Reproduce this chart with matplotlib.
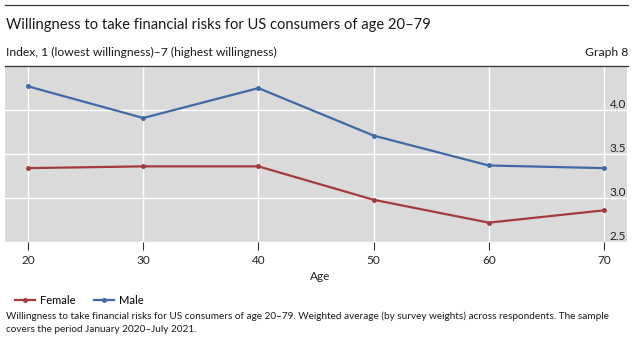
import matplotlib
matplotlib.use("Agg")
import matplotlib.pyplot as plt
from matplotlib.lines import Line2D

plt.rcParams['font.family'] = ['Lato', 'DejaVu Sans']

ages = [20, 30, 40, 50, 60, 70]
female = [3.34, 3.36, 3.36, 2.98, 2.72, 2.86]
male = [4.27, 3.91, 4.25, 3.71, 3.37, 3.34]
yticks = [2.5, 3.0, 3.5, 4.0]
ytick_labels = ["2.5", "3.0", "3.5", "4.0"]

W, H = 634, 340
fig = plt.figure(figsize=(W/100, H/100), dpi=100)

def fx(x): return x / W
def fy(y): return 1 - y / H

fig.add_artist(Line2D([fx(5), fx(628)], [fy(5), fy(5)], color='#333333', lw=0.9))
fig.add_artist(Line2D([fx(5), fx(628)], [fy(66), fy(66)], color='#333333', lw=0.9))

fig.text(fx(6), fy(25), "Willingness to take financial risks for US consumers of age 20\u201379",
         fontsize=10.6, va='center', ha='left', color='#1a1a1a')
fig.text(fx(6), fy(52), "Index, 1 (lowest willingness)\u20137 (highest willingness)",
         fontsize=8.7, va='center', ha='left', color='#1a1a1a')
fig.text(fx(628), fy(52), "Graph 8", fontsize=8.7, va='center', ha='right', color='#1a1a1a')

ax = fig.add_axes([fx(5), fy(242), fx(627) - fx(5), fy(67) - fy(242)])
ax.set_facecolor('#dadada')
red = '#a23b3b'
blue = '#3f69a6'
ax.plot(ages, female, color=red, lw=1.6, marker='o', ms=2.5, label='Female')
ax.plot(ages, male, color=blue, lw=1.6, marker='o', ms=2.5, label='Male')

ax.set_xlim(18.0, 72.0)
ax.set_ylim(2.5, 4.49)
ax.set_xticks(ages)
ax.set_xticklabels([str(a) for a in ages], fontsize=8.5, color='#222222')
ax.set_yticks(yticks)
ax.set_yticklabels(ytick_labels, fontsize=8.5, color='#222222')
ax.yaxis.tick_right()
ax.tick_params(axis='y', length=0, pad=-12.5)
for lbl in ax.get_yticklabels():
    lbl.set_horizontalalignment('left')
    lbl.set_verticalalignment('bottom')
ax.tick_params(axis='x', length=6, width=0.8, color='#333333', pad=3, direction='out')
ax.grid(True, color='white', lw=1.0)
ax.set_axisbelow(True)
for s in ax.spines.values():
    s.set_visible(False)

fig.text(fx(320), fy(276), "Age", fontsize=8.5, ha='center', va='center', color='#222222')

ax.legend(loc='center left', bbox_to_anchor=(fx(15) - fx(5), (fy(300) - fy(242)) / (fy(67) - fy(242))),
          ncol=2, frameon=False, fontsize=8, handlelength=1.8, columnspacing=1.7,
          borderaxespad=0, handletextpad=0.45, borderpad=0)

fig.text(fx(6), fy(316), "Willingness to take financial risks for US consumers of age 20\u201379. Weighted average (by survey weights) across respondents. The sample",
         fontsize=7.2, ha='left', va='center', color='#1a1a1a')
fig.text(fx(6), fy(330), "covers the period January 2020\u2013July 2021.",
         fontsize=7.2, ha='left', va='center', color='#1a1a1a')

fig.savefig("out.png", dpi=100, facecolor='white')
